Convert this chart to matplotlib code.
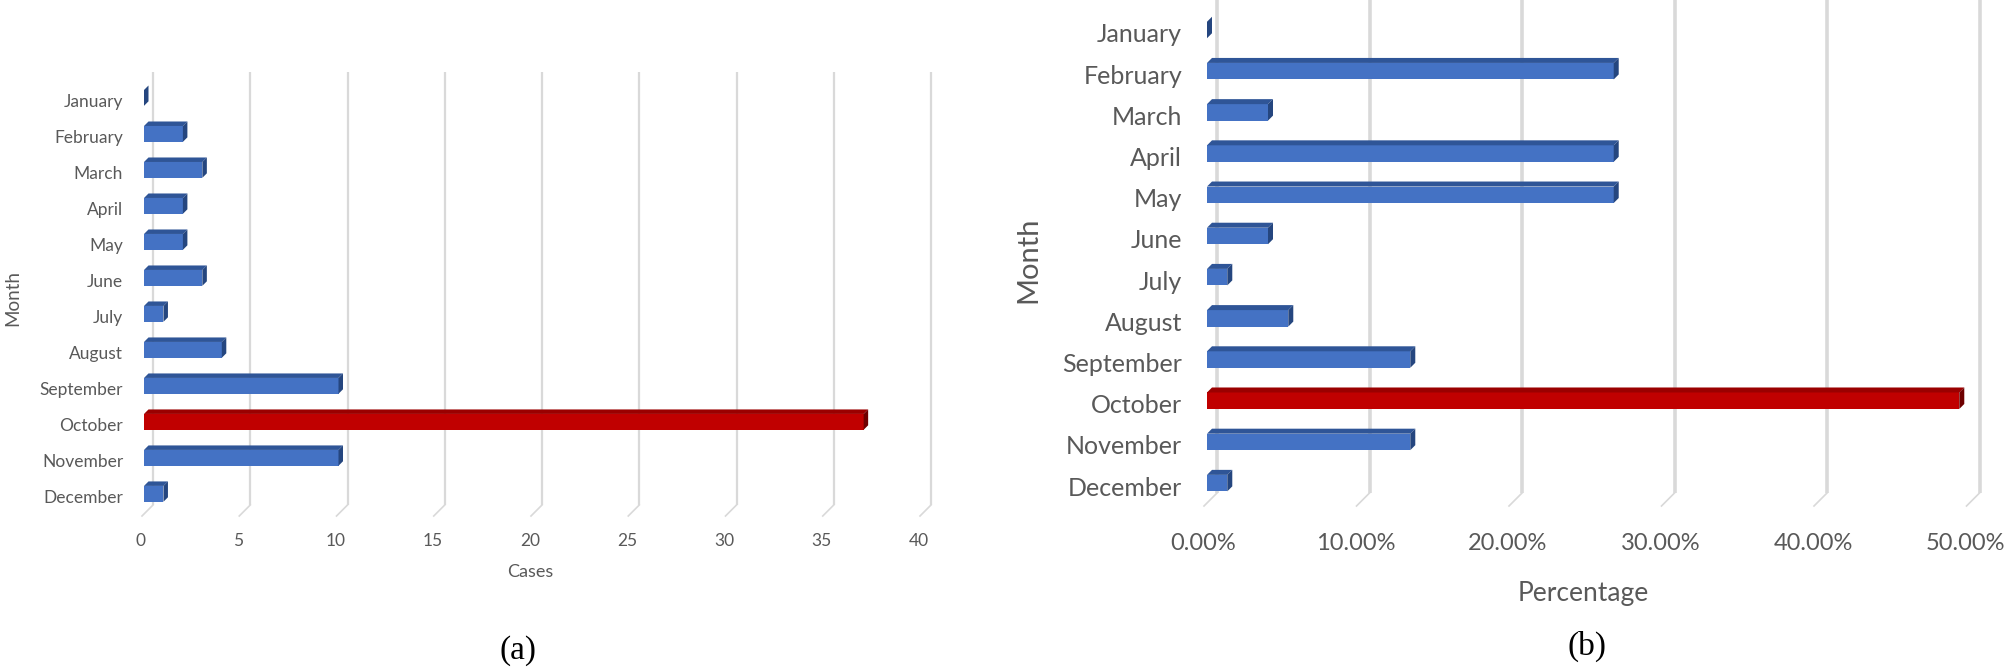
import matplotlib
matplotlib.use("Agg")
import matplotlib.pyplot as plt
from matplotlib.patches import Polygon
from matplotlib.lines import Line2D
from matplotlib.transforms import ScaledTranslation, IdentityTransform
from matplotlib.ticker import PercentFormatter

months = ["January", "February", "March", "April", "May", "June", "July",
          "August", "September", "October", "November", "December"]
cases = [0, 2, 3, 2, 2, 3, 1, 4, 10, 37, 10, 1]
percentages = [0, 26.67, 4.0, 26.67, 26.67, 4.0, 1.33, 5.33, 13.33, 49.33, 13.33, 1.33]
highlight = "October"
cases_ticks = [0, 5, 10, 15, 20, 25, 30, 35, 40]
pct_ticks = [0, 10, 20, 30, 40, 50]

W, H = 2007, 668
DPI = 100
fig = plt.figure(figsize=(W / DPI, H / DPI), dpi=DPI)
fig.patch.set_facecolor("white")

TXT = "#595959"
GRID = "#D9D9D9"
BLUE = ("#4472C4", "#2F5597", "#25467F")
RED = ("#C00000", "#9A0000", "#6E0000")
FONT = "Lato"


def px_axes(x0, y_top, x1, y_bot):
    return fig.add_axes([x0 / W, 1 - y_bot / H, (x1 - x0) / W, (y_bot - y_top) / H])


def draw_panel(ax, values, ticks, xlim, ylim, bar_h, depth, grid_off, grid_lw,
               label_fs, tick_fs, label_pad, tick_pad, tick_shift, ylab_dy,
               slant, fmt=None):
    ax.set_xlim(*xlim)
    ax.set_ylim(*ylim)
    for s in ax.spines.values():
        s.set_visible(False)
    ax.set_facecolor("none")
    # pixel scale
    bbox = ax.get_position()
    ax_w_px = bbox.width * W
    ax_h_px = bbox.height * H
    ppx = ax_w_px / (xlim[1] - xlim[0])
    ppy = ax_h_px / abs(ylim[1] - ylim[0])
    dxd = depth / ppx
    dyd = depth / ppy

    # gridlines (back wall) + slanted floor ticks
    off = ScaledTranslation(grid_off / DPI, 0, fig.dpi_scale_trans)
    for t in ticks:
        ax.plot([t, t], [0, 1], transform=ax.get_xaxis_transform() + off,
                color=GRID, lw=grid_lw, zorder=0, solid_capstyle="butt")
        bx, by = ax.get_xaxis_transform().transform((t, 0))
        fig.add_artist(Line2D([bx + grid_off, bx + grid_off - slant], [by, by - slant],
                              transform=IdentityTransform(), color=GRID, lw=1.2))

    # 3D bars
    for i, (m, v) in enumerate(zip(months, values)):
        front, top_c, side_c = RED if m == highlight else BLUE
        top = i - bar_h / 2
        bot = i + bar_h / 2
        ax.barh(i, v, height=bar_h, color=front, edgecolor="none", zorder=3)
        ax.add_patch(Polygon([(0, top), (v, top), (v + dxd, top - dyd), (dxd, top - dyd)],
                             closed=True, facecolor=top_c, edgecolor="none", zorder=3))
        ax.add_patch(Polygon([(v, top), (v + dxd, top - dyd), (v + dxd, bot - dyd), (v, bot)],
                             closed=True, facecolor=side_c, edgecolor="none", zorder=3))

    ax.set_yticks(range(len(months)))
    ax.set_yticklabels(months, fontsize=label_fs, color=TXT, family=FONT)
    ax.tick_params(axis="y", length=0, pad=label_pad)
    for lbl in ax.get_yticklabels():
        lbl.set_transform(lbl.get_transform() +
                          ScaledTranslation(0, -ylab_dy / DPI, fig.dpi_scale_trans))

    ax.set_xticks(ticks)
    if fmt is not None:
        ax.xaxis.set_major_formatter(fmt)
    ax.tick_params(axis="x", length=0, pad=tick_pad, labelsize=tick_fs, labelcolor=TXT)
    for lbl in ax.get_xticklabels():
        lbl.set_family(FONT)
        lbl.set_transform(lbl.get_transform() +
                          ScaledTranslation(tick_shift / DPI, 0, fig.dpi_scale_trans))


# ---- panel (a) ----
axA = px_axes(144, 72, 144 + 42 * 19.45, 505)
draw_panel(axA, cases, cases_ticks, (0, 42), (11.31, -0.72), bar_h=0.44, depth=4.5,
           grid_off=9, grid_lw=1.6, label_fs=12.5, tick_fs=12.5, label_pad=15,
           tick_pad=20, tick_shift=-3, ylab_dy=3, slant=11)
axA.set_xlabel("Cases", fontsize=13, color=TXT, family=FONT, va="center")
axA.xaxis.set_label_coords((530 - 144) / (42 * 19.45), -(572 - 505) / (505 - 72))
axA.set_ylabel("Month", fontsize=13.5, color=TXT, family=FONT, va="center")
axA.yaxis.set_label_coords(-(144 - 13) / (42 * 19.45), 1 - (298 - 72) / (505 - 72))

# ---- panel (b) ----
axB = px_axes(1207, 0, 1207 + 52 * 15.25, 493)
draw_panel(axB, percentages, pct_ticks, (0, 52), (11.24, -0.728), bar_h=0.40, depth=5,
           grid_off=10, grid_lw=2.6, label_fs=18, tick_fs=17, label_pad=18,
           tick_pad=29, tick_shift=-4, ylab_dy=3, slant=13,
           fmt=PercentFormatter(xmax=100, decimals=2))
axB.set_xlabel("Percentage", fontsize=19, color=TXT, family=FONT, va="center")
axB.xaxis.set_label_coords((1583 - 1207) / (52 * 15.25), -(593 - 493) / 493)
axB.set_ylabel("Month", fontsize=21, color=TXT, family=FONT, va="center")
axB.yaxis.set_label_coords(-(1207 - 1028) / (52 * 15.25), 1 - 260 / 493)

# ---- captions ----
fig.text(518 / W, 1 - 651 / H, "(a)", fontsize=24, family="Liberation Serif",
         ha="center", va="center", color="black")
fig.text(1587 / W, 1 - 646 / H, "(b)", fontsize=24, family="Liberation Serif",
         ha="center", va="center", color="black")

fig.savefig("out.png", dpi=DPI, facecolor="white")
